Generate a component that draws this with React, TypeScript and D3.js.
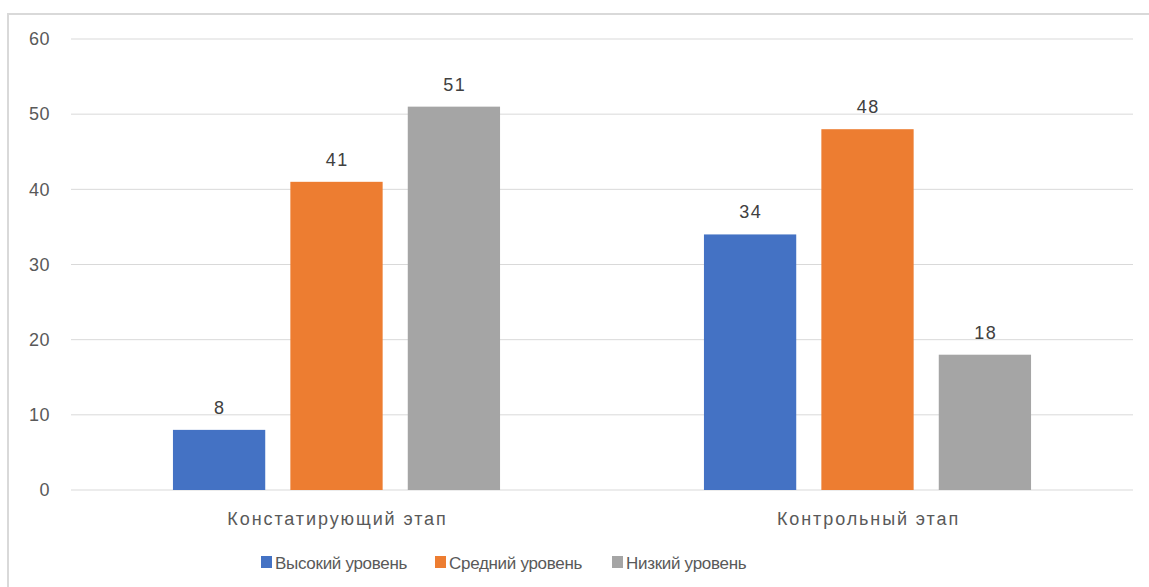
import React from 'react';
import * as d3 from 'd3';

const categories = ['Констатирующий этап', 'Контрольный этап'];
const seriesNames = ['Высокий уровень', 'Средний уровень', 'Низкий уровень'];
const seriesColors = ['#4472c4', '#ed7d31', '#a5a5a5'];
const highValues = [8, 34];
const middleValues = [41, 48];
const lowValues = [51, 18];
const yTicks = [0, 10, 20, 30, 40, 50, 60];

const seriesValues = [highValues, middleValues, lowValues];

export default function App() {
  const width = 1149;
  const height = 587;
  const margin = { top: 39, right: 16, bottom: 97, left: 71 };
  const font = 'Liberation Sans, Arial, sans-serif';
  const textColor = '#595959';

  const x0 = d3
    .scaleBand()
    .domain(categories)
    .range([margin.left, width - margin.right])
    .paddingInner(0.384)
    .paddingOuter(0.192);

  const x1 = d3
    .scaleBand()
    .domain(seriesNames)
    .range([0, x0.bandwidth()])
    .paddingInner(0.214);

  const y = d3
    .scaleLinear()
    .domain([0, 60])
    .range([height - margin.bottom, margin.top]);

  const legendX = [261, 435, 612];

  return (
    <svg
      width={width}
      height={height}
      style={{ position: 'absolute', left: 0, top: 0, background: '#fff' }}
    >
      <rect x={8} y={14} width={width} height={height} fill="#fff" stroke="#d9d9d9" strokeWidth={2} />
      <g className="grid">
        {yTicks.map((t) => (
          <line
            key={t}
            x1={margin.left}
            x2={width - margin.right}
            y1={y(t)}
            y2={y(t)}
            stroke="#d9d9d9"
            strokeWidth={1}
          />
        ))}
      </g>
      <g className="y-axis" fontFamily={font} fontSize={18} fill={textColor} letterSpacing={0.5}>
        {yTicks.map((t) => (
          <text key={t} x={50} y={y(t)} dy="0.35em" textAnchor="end">
            {t}
          </text>
        ))}
      </g>
      <g className="plot-area">
        {categories.map((c, ci) => (
          <g key={c} transform={`translate(${x0(c)},0)`}>
            {seriesNames.map((s, si) => {
              const v = seriesValues[si][ci];
              const bx = x1(s) as number;
              return (
                <g key={s}>
                  <rect
                    x={bx}
                    y={y(v)}
                    width={x1.bandwidth()}
                    height={y(0) - y(v)}
                    fill={seriesColors[si]}
                  />
                  <text
                    x={bx + x1.bandwidth() / 2 + 0.75}
                    y={y(v) - 16}
                    textAnchor="middle"
                    fontFamily={font}
                    fontSize={18}
                    letterSpacing={1.5}
                    fill="#404040"
                  >
                    {v}
                  </text>
                </g>
              );
            })}
          </g>
        ))}
      </g>
      <g className="x-axis" fontFamily={font} fontSize={18} fill={textColor} letterSpacing={1.9}>
        {categories.map((c) => (
          <text key={c} x={(x0(c) as number) + x0.bandwidth() / 2 + 1} y={525} textAnchor="middle">
            {c}
          </text>
        ))}
      </g>
      <g className="legend" fontFamily={font} fontSize={17} fill={textColor} letterSpacing={-0.3}>
        {seriesNames.map((s, i) => (
          <g key={s} transform={`translate(${legendX[i]},556)`}>
            <rect x={0} y={0} width={11} height={12} fill={seriesColors[i]} />
            <text x={14} y={12.5}>
              {s}
            </text>
          </g>
        ))}
      </g>
    </svg>
  );
}
